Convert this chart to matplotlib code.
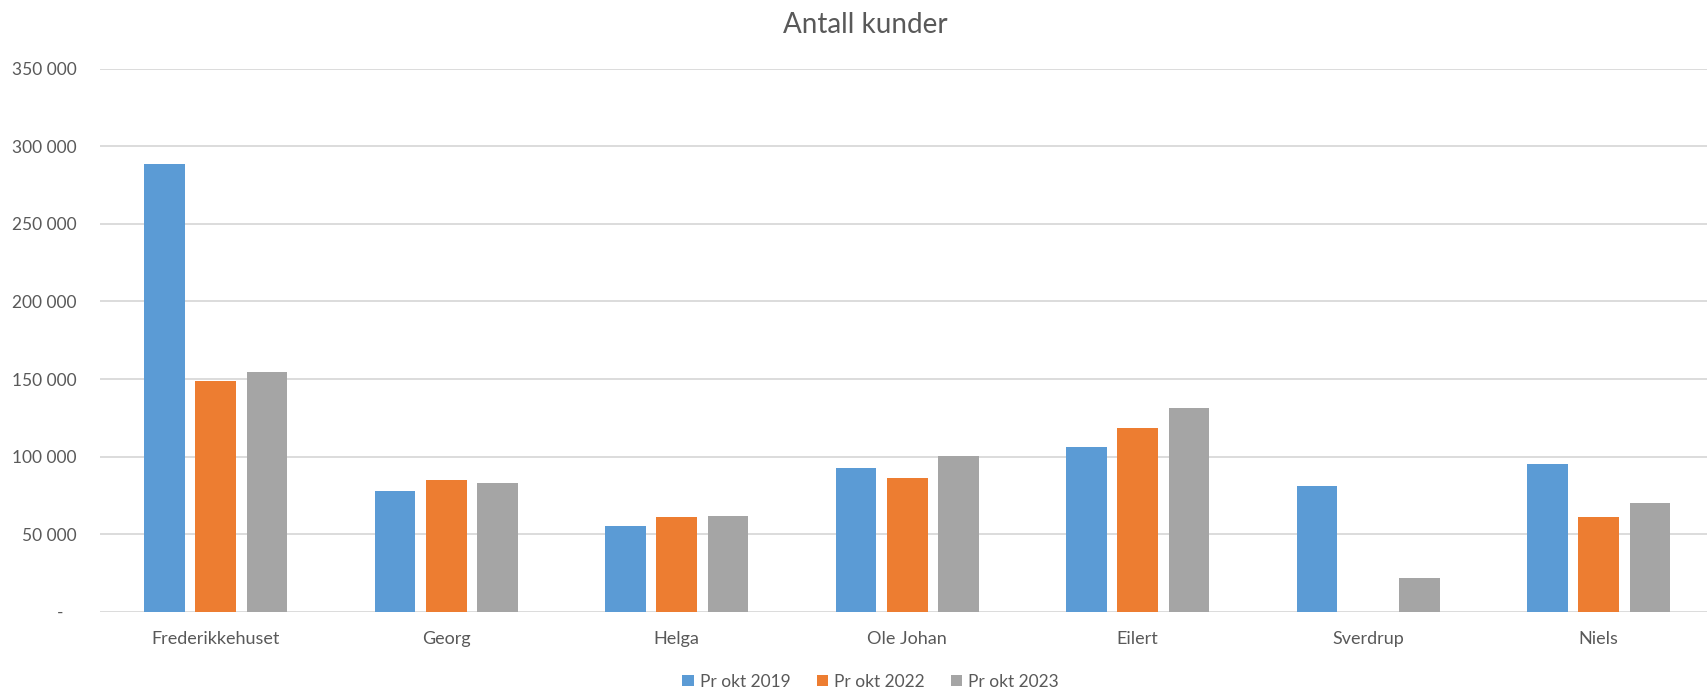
import matplotlib
matplotlib.use("Agg")
import matplotlib.pyplot as plt
from matplotlib.patches import Patch
from matplotlib.ticker import FuncFormatter
import numpy as np

categories = ["Frederikkehuset", "Georg", "Helga", "Ole Johan", "Eilert", "Sverdrup", "Niels"]
series_names = ["Pr okt 2019", "Pr okt 2022", "Pr okt 2023"]
pr_okt_2019 = [288700, 77900, 55400, 92700, 106100, 81100, 95100]
pr_okt_2022 = [149000, 85000, 61200, 86300, 118700, 0, 61200]
pr_okt_2023 = [154600, 82900, 61600, 100300, 131200, 21700, 70000]
colors = ["#5B9BD5", "#ED7D31", "#A5A5A5"]
title = "Antall kunder"

W, H = 1708, 692
fig = plt.figure(figsize=(W / 100, H / 100), dpi=100)
plt.rcParams['font.family'] = ['Lato', 'DejaVu Sans']
txt = "#595959"

left_px, right_px, top_px, bot_px = 100.5, 1714, 68.5, 612
ax = fig.add_axes([left_px / W, (H - bot_px) / H, (right_px - left_px) / W, (bot_px - top_px) / H])

x = np.arange(len(categories))
off = 0.2223
bw = 0.176
for i, (vals, c) in enumerate(zip([pr_okt_2019, pr_okt_2022, pr_okt_2023], colors)):
    ax.bar(x + (i - 1) * off, vals, width=bw, color=c, zorder=3, linewidth=0)

ax.set_xlim(-0.5, 6.5)
ax.set_ylim(0, 350000)
ax.set_yticks(np.arange(0, 350001, 50000))
ax.yaxis.set_major_formatter(FuncFormatter(lambda v, p: "-   " if v == 0 else f"{int(v):,}".replace(",", " ")))
ax.set_xticks(x)
ax.set_xticklabels(categories)
ax.grid(axis="y", color="#D9D9D9", linewidth=1.3, zorder=0)
for s in ax.spines.values():
    s.set_visible(False)
ax.tick_params(axis="y", length=0, pad=17, labelsize=12.5, labelcolor=txt)
ax.tick_params(axis="x", length=0, pad=14, labelsize=13, labelcolor=txt)

fig.text(865.5 / W, 1 - 33 / H, title, ha="center", va="baseline", fontsize=20, color=txt)

handles = [Patch(facecolor=c, edgecolor="none") for c in colors]
fig.legend(handles, series_names, loc="center", bbox_to_anchor=(870.5 / W, 1 - 681.7 / H),
           ncol=3, frameon=False, fontsize=12.5, labelcolor=txt,
           handlelength=0.65, handleheight=0.65, handletextpad=0.35, columnspacing=1.5)

fig.savefig("out.png", dpi=100)
